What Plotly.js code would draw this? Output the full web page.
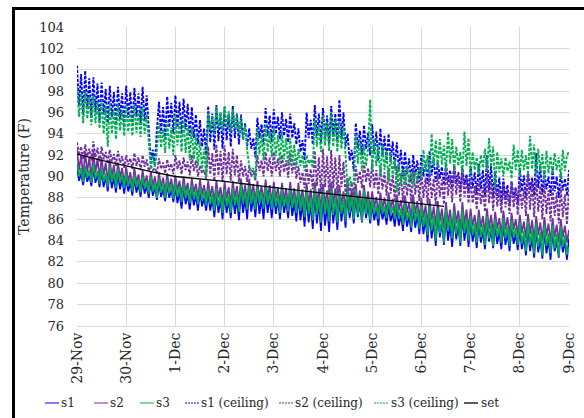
<!DOCTYPE html>
<html>
<head>
<meta charset="utf-8">
<script src="https://cdn.plot.ly/plotly-3.0.1.min.js"></script>
<style>
  html, body { margin: 0; padding: 0; background: #fff; }
  #wrap { position: relative; width: 584px; height: 418px; overflow: hidden; }
  #chart { position: absolute; left: 0; top: 0; width: 584px; height: 418px; }
  #frame { position: absolute; left: 12px; top: 7px; width: 640px; height: 480px;
           border-top: 3px solid #000; border-left: 3px solid #000; pointer-events: none; }
</style>
</head>
<body>
<div id="wrap"><div id="chart"></div><div id="frame"></div></div>
<script>
// Sampling: one reading every hour starting 29-Nov 00:00
const startDate = '2019-11-29T00:00:00';
const stepHours = 1;

const seriesNames = ['s1', 's2', 's3', 's1 (ceiling)', 's2 (ceiling)', 's3 (ceiling)', 'set'];

const s1 = [
  90.8, 89.6, 90.3, 89.2, 90.6, 89.5, 90.1, 89.1, 90.7, 89.4, 90.2, 89.0, 90.4, 89.0, 90.0, 88.6, 90.5, 88.9, 89.9, 88.5, 90.2, 88.8, 89.8, 88.4,
  89.9, 88.6, 89.4, 88.2, 89.8, 88.5, 89.3, 88.1, 89.6, 88.4, 89.1, 88.0, 89.5, 88.2, 89.0, 87.8, 89.3, 88.1, 88.8, 87.7, 89.2, 88.0, 88.7, 87.6,
  89.0, 87.5, 88.5, 87.0, 88.9, 87.4, 88.3, 86.9, 88.7, 87.3, 88.2, 86.8, 88.6, 87.2, 88.0, 86.8, 88.4, 86.8, 87.9, 86.2, 88.3, 86.6, 87.8, 86.0,
  88.3, 86.6, 87.8, 86.1, 88.4, 86.5, 87.9, 85.9, 88.6, 86.6, 88.0, 86.0, 88.7, 86.7, 88.1, 86.2, 88.5, 86.5, 87.9, 86.0, 88.5, 86.6, 88.0, 86.1,
  88.4, 86.5, 87.9, 86.0, 88.3, 86.6, 87.7, 86.1, 88.3, 86.3, 87.6, 85.8, 88.2, 85.9, 87.5, 85.3, 88.2, 85.7, 87.4, 85.1, 88.3, 85.6, 87.5, 84.9,
  88.1, 85.4, 87.3, 84.8, 88.2, 85.6, 87.4, 85.0, 88.0, 85.8, 87.5, 85.2, 88.2, 86.1, 87.6, 85.6, 88.1, 86.2, 87.5, 85.7, 88.0, 86.1, 87.4, 85.6,
  87.4, 85.9, 86.9, 85.4, 87.3, 86.0, 86.8, 85.5, 87.2, 85.8, 86.6, 85.3, 87.0, 85.4, 86.4, 84.9, 86.9, 85.3, 86.3, 84.8, 87.0, 85.2, 86.4, 84.6,
  86.8, 84.6, 86.0, 83.9, 86.6, 84.2, 85.8, 83.5, 86.5, 84.3, 85.7, 83.6, 86.3, 84.0, 85.5, 83.4, 86.2, 84.1, 85.4, 83.5, 86.3, 84.0, 85.6, 83.4,
  85.8, 83.9, 85.1, 83.3, 85.6, 83.8, 84.9, 83.2, 85.7, 83.9, 85.0, 83.3, 85.4, 83.7, 84.8, 83.2, 85.5, 83.6, 84.7, 83.0, 85.3, 83.7, 84.6, 83.1,
  85.1, 83.2, 84.4, 82.6, 85.2, 83.0, 84.3, 82.4, 85.0, 82.9, 84.2, 82.3, 84.9, 82.8, 84.1, 82.2, 84.8, 83.0, 84.0, 82.4, 84.7, 82.9, 83.9, 82.2, 84.2
];

const s2 = [
  92.5, 90.6, 92.0, 90.0, 92.3, 90.4, 91.8, 89.8, 92.4, 90.3, 91.7, 89.8, 91.8, 90.1, 91.3, 89.5, 91.6, 90.0, 91.1, 89.4, 91.3, 89.9, 90.8, 89.3,
  90.9, 89.5, 90.4, 89.0, 90.8, 89.4, 90.2, 88.9, 90.6, 89.3, 90.1, 88.8, 90.5, 89.1, 90.0, 88.6, 90.4, 89.0, 89.9, 88.5, 90.3, 88.9, 89.8, 88.4,
  90.1, 88.7, 89.6, 88.2, 90.0, 88.6, 89.4, 88.0, 89.8, 88.5, 89.3, 88.0, 89.7, 88.3, 89.2, 87.8, 89.6, 88.1, 89.1, 87.6, 89.6, 88.0, 89.0, 87.5,
  89.5, 87.9, 89.0, 87.4, 89.6, 88.0, 89.1, 87.5, 89.8, 88.1, 89.2, 87.6, 89.8, 88.1, 89.3, 87.6, 89.6, 88.0, 89.1, 87.6, 89.7, 88.0, 89.2, 87.5,
  89.5, 87.9, 89.0, 87.4, 89.4, 87.8, 88.9, 87.3, 89.5, 87.7, 88.9, 87.2, 89.4, 87.5, 88.8, 87.0, 89.4, 87.4, 88.8, 86.9, 89.5, 87.3, 88.9, 86.8,
  89.3, 87.3, 88.7, 86.8, 89.5, 87.4, 88.9, 86.8, 89.2, 87.3, 88.6, 86.8, 89.4, 87.4, 88.8, 86.9, 89.3, 87.3, 88.7, 86.8, 89.2, 87.2, 88.6, 86.8,
  88.6, 87.1, 88.1, 86.6, 88.5, 87.0, 88.0, 86.6, 88.5, 87.0, 87.9, 86.5, 88.3, 86.8, 87.8, 86.3, 88.2, 86.6, 87.6, 86.0, 88.3, 86.5, 87.7, 86.0,
  88.0, 86.1, 87.3, 85.5, 87.9, 85.9, 87.2, 85.3, 87.7, 85.8, 87.0, 85.2, 87.6, 85.6, 86.9, 85.0, 87.5, 85.6, 86.8, 85.0, 87.6, 85.5, 86.9, 85.0,
  87.0, 85.3, 86.4, 84.8, 86.9, 85.2, 86.3, 84.7, 87.0, 85.1, 86.4, 84.6, 86.7, 85.1, 86.1, 84.6, 86.8, 85.0, 86.2, 84.5, 86.6, 85.0, 86.0, 84.5,
  86.4, 84.7, 85.8, 84.2, 86.5, 84.6, 85.9, 84.0, 86.3, 84.5, 85.7, 84.0, 86.2, 84.4, 85.6, 83.9, 86.1, 84.3, 85.5, 83.8, 86.0, 84.3, 85.4, 83.8, 85.0
];

const s3 = [
  91.3, 90.0, 90.8, 89.5, 91.0, 89.9, 90.6, 89.4, 91.2, 89.8, 90.5, 89.3, 90.8, 89.5, 90.3, 89.0, 91.0, 89.5, 90.4, 88.9, 90.7, 89.4, 90.2, 88.9,
  90.3, 89.1, 89.8, 88.6, 90.2, 89.0, 89.7, 88.5, 90.0, 88.9, 89.5, 88.4, 90.0, 88.6, 89.4, 88.0, 89.8, 88.5, 89.3, 88.0, 89.7, 88.4, 89.2, 87.9,
  89.5, 88.1, 89.0, 87.6, 89.4, 88.0, 88.9, 87.5, 89.2, 87.9, 88.7, 87.4, 89.1, 87.8, 88.6, 87.3, 88.9, 87.4, 88.4, 86.8, 88.9, 87.2, 88.3, 86.6,
  88.8, 87.2, 88.2, 86.6, 88.9, 87.3, 88.4, 86.7, 89.2, 87.5, 88.6, 86.9, 89.2, 87.4, 88.6, 86.9, 89.0, 87.5, 88.5, 87.0, 89.1, 87.4, 88.5, 86.9,
  88.9, 87.2, 88.3, 86.6, 88.8, 87.2, 88.2, 86.7, 88.9, 87.1, 88.3, 86.6, 88.9, 86.8, 88.2, 86.2, 88.8, 86.5, 88.0, 85.9, 88.9, 86.4, 88.1, 85.7,
  88.7, 86.5, 87.9, 85.8, 88.9, 86.4, 88.0, 85.7, 88.6, 86.5, 87.8, 85.8, 88.9, 86.6, 88.1, 86.0, 88.8, 86.4, 88.0, 85.8, 88.7, 86.5, 87.9, 85.9,
  87.9, 86.5, 87.3, 86.0, 87.8, 86.6, 87.2, 86.1, 87.9, 86.5, 87.2, 86.0, 87.6, 86.1, 87.0, 85.5, 87.5, 85.9, 86.8, 85.2, 87.6, 85.8, 86.9, 85.1,
  87.3, 85.3, 86.5, 84.5, 87.2, 84.9, 86.3, 84.0, 87.0, 84.7, 86.2, 83.8, 86.9, 84.9, 86.1, 84.2, 86.8, 84.6, 86.0, 83.8, 86.9, 84.7, 86.1, 84.0,
  86.3, 84.5, 85.6, 83.8, 86.2, 84.3, 85.5, 83.6, 86.3, 84.2, 85.5, 83.5, 86.0, 84.4, 85.3, 83.8, 86.1, 84.2, 85.3, 83.5, 85.9, 84.3, 85.2, 83.6,
  85.7, 83.7, 84.9, 83.0, 85.8, 83.6, 85.0, 82.8, 85.6, 83.4, 84.8, 82.6, 85.5, 83.5, 84.7, 82.8, 85.4, 83.3, 84.6, 82.5, 85.3, 83.4, 84.5, 82.7, 83.4
];

const s1Ceiling = [
  100.4, 96.6, 99.6, 95.8, 99.9, 96.3, 99.2, 95.5, 99.3, 96.0, 98.7, 95.2, 98.8, 95.8, 98.2, 95.0, 98.5, 95.6, 97.9, 94.8, 98.4, 95.4, 97.8, 94.6,
  98.5, 95.5, 97.9, 94.8, 98.3, 95.6, 97.8, 95.0, 98.4, 95.2, 97.6, 94.0, 91.5, 92.5, 91.0, 94.5, 97.0, 94.0, 96.5, 93.5, 97.5, 94.6, 96.9, 94.0,
  97.6, 94.6, 97.0, 94.0, 97.3, 94.4, 96.8, 93.8, 96.5, 93.6, 95.8, 93.0, 95.3, 92.8, 94.5, 92.0, 96.6, 93.2, 95.9, 92.5, 96.7, 93.3, 96.0, 92.6,
  96.5, 93.4, 95.9, 92.8, 96.6, 93.6, 95.9, 93.0, 95.8, 93.4, 95.0, 92.8, 94.5, 92.6, 93.6, 91.8, 95.5, 93.6, 94.9, 93.0, 96.4, 93.8, 95.7, 93.2,
  96.3, 94.0, 95.6, 93.5, 96.0, 93.8, 95.4, 93.2, 95.9, 93.6, 95.0, 93.0, 94.5, 92.3, 93.4, 91.5, 96.0, 93.6, 95.3, 93.0, 96.7, 93.8, 95.9, 93.2,
  96.4, 93.6, 95.7, 93.0, 96.6, 93.8, 95.9, 93.2, 97.2, 93.5, 96.0, 92.8, 94.0, 91.5, 92.5, 90.5, 95.0, 92.6, 94.3, 92.0, 94.8, 92.6, 94.1, 92.0,
  94.9, 92.1, 94.2, 91.5, 94.5, 91.9, 93.8, 91.3, 94.0, 91.4, 93.3, 90.8, 93.2, 90.7, 92.5, 90.0, 92.3, 90.2, 91.7, 89.5, 92.0, 90.1, 91.5, 89.5,
  92.0, 90.0, 91.4, 89.3, 92.4, 90.1, 91.7, 89.5, 91.5, 89.8, 90.9, 89.2, 91.3, 89.5, 90.6, 88.9, 91.0, 89.4, 90.4, 88.8, 90.8, 89.2, 90.2, 88.6,
  91.0, 88.9, 90.4, 88.3, 91.2, 88.8, 90.6, 88.2, 92.0, 88.7, 91.0, 88.0, 90.5, 88.1, 89.9, 87.5, 89.8, 87.9, 89.2, 87.3, 89.5, 88.0, 89.0, 87.4,
  90.8, 88.6, 90.1, 88.0, 90.5, 88.7, 89.9, 88.2, 92.2, 88.9, 91.0, 88.3, 90.6, 88.8, 90.0, 88.2, 90.7, 88.6, 90.0, 88.0, 90.4, 88.7, 89.8, 88.2, 90.6
];

const s2Ceiling = [
  93.2, 92.0, 92.8, 91.6, 93.0, 91.9, 92.6, 91.5, 93.3, 91.8, 92.7, 91.4, 92.8, 91.6, 92.3, 91.2, 92.5, 91.4, 92.1, 91.0, 92.4, 91.3, 91.9, 90.8,
  92.0, 91.1, 91.7, 90.7, 92.2, 91.0, 91.8, 90.6, 92.0, 90.9, 91.6, 90.5, 91.0, 90.6, 90.8, 90.3, 91.7, 90.7, 91.3, 90.3, 91.6, 90.6, 91.2, 90.2,
  92.0, 90.7, 91.5, 90.2, 91.8, 90.6, 91.4, 90.1, 92.0, 90.5, 91.5, 90.0, 91.0, 90.3, 90.6, 89.8, 92.8, 90.2, 92.2, 89.6, 93.0, 90.1, 92.4, 89.5,
  92.9, 90.2, 92.3, 89.6, 92.6, 90.1, 92.0, 89.5, 91.5, 90.0, 91.0, 89.5, 91.0, 90.0, 90.6, 89.6, 92.0, 90.5, 91.5, 90.0, 92.3, 90.5, 91.8, 90.0,
  92.3, 90.5, 91.7, 90.0, 92.0, 90.4, 91.5, 89.9, 92.2, 90.3, 91.6, 89.8, 91.0, 89.4, 90.4, 88.9, 91.2, 89.3, 90.7, 88.8, 92.4, 89.1, 91.8, 88.4,
  92.6, 89.0, 91.9, 88.3, 92.5, 88.9, 91.8, 88.2, 92.0, 89.0, 91.4, 88.3, 89.8, 88.6, 89.4, 88.2, 91.0, 89.4, 90.5, 88.9, 91.3, 89.5, 90.8, 89.0,
  91.3, 88.9, 90.6, 88.3, 91.0, 88.8, 90.4, 88.2, 90.8, 88.4, 90.2, 87.8, 91.0, 88.2, 90.3, 87.6, 90.6, 88.2, 90.0, 87.6, 90.8, 88.3, 90.1, 87.7,
  90.6, 88.0, 89.9, 87.4, 90.5, 88.0, 89.8, 87.3, 90.4, 88.1, 89.7, 87.4, 90.8, 88.2, 90.1, 87.6, 91.0, 88.3, 90.2, 87.6, 90.7, 88.1, 90.0, 87.5,
  89.8, 87.5, 89.1, 86.9, 89.6, 87.4, 89.0, 86.7, 90.3, 87.5, 89.5, 86.8, 89.5, 87.2, 88.8, 86.6, 89.4, 87.1, 88.7, 86.5, 89.6, 87.1, 88.9, 86.4,
  89.5, 87.0, 88.8, 86.3, 90.3, 86.9, 89.5, 86.2, 89.8, 86.7, 89.1, 86.0, 89.4, 86.5, 88.7, 85.8, 89.2, 86.3, 88.5, 85.6, 89.0, 86.2, 88.3, 85.5, 88.9
];

const s3Ceiling = [
  98.4, 95.6, 97.8, 95.0, 98.0, 95.4, 97.5, 94.8, 97.6, 95.0, 97.0, 94.5, 97.2, 94.0, 96.6, 92.8, 96.9, 94.0, 96.3, 93.5, 96.8, 94.3, 96.2, 93.8,
  96.7, 94.2, 96.1, 93.8, 96.8, 94.1, 96.2, 93.7, 96.6, 94.0, 95.8, 93.6, 90.7, 92.0, 90.9, 92.5, 95.0, 92.7, 94.4, 92.2, 95.2, 92.6, 94.6, 92.0,
  95.8, 92.9, 95.2, 92.3, 95.5, 92.2, 94.8, 91.5, 94.6, 91.6, 93.9, 91.0, 93.3, 90.7, 92.6, 90.0, 96.0, 94.4, 95.6, 94.0, 96.5, 94.6, 96.0, 94.2,
  96.6, 94.6, 96.1, 94.2, 96.3, 94.5, 95.8, 94.0, 95.5, 93.5, 94.8, 92.5, 91.0, 90.5, 90.8, 89.8, 94.5, 92.1, 93.9, 91.5, 94.9, 92.3, 94.3, 91.8,
  94.5, 91.9, 93.9, 91.3, 94.2, 91.6, 93.6, 91.0, 93.6, 91.3, 93.0, 90.8, 92.6, 91.0, 92.0, 90.5, 92.0, 91.2, 91.6, 90.8, 95.3, 92.8, 94.8, 92.3,
  95.7, 92.9, 95.1, 92.4, 96.0, 92.8, 95.3, 92.3, 95.2, 92.6, 94.6, 92.0, 88.9, 90.0, 89.2, 89.5, 94.0, 91.2, 93.4, 90.5, 93.0, 91.0, 92.6, 97.2,
  90.4, 93.5, 91.0, 92.9, 90.0, 93.0, 90.6, 92.4, 89.5, 92.2, 90.0, 91.6, 88.5, 91.2, 89.2, 90.7, 89.0, 91.0, 89.5, 90.4, 89.0, 90.5, 89.6, 90.8,
  89.8, 92.5, 90.4, 92.0, 90.2, 94.0, 91.0, 93.4, 90.8, 93.5, 91.1, 92.9, 90.5, 94.2, 91.2, 93.5, 90.6, 92.8, 91.0, 92.3, 90.3, 94.2, 91.0, 93.6,
  90.0, 92.3, 90.6, 91.8, 90.2, 92.0, 90.8, 92.6, 90.5, 93.6, 90.9, 92.8, 88.9, 92.3, 90.4, 91.7, 90.0, 91.8, 90.5, 91.4, 89.8, 93.0, 90.6, 92.5,
  90.0, 92.5, 90.6, 92.0, 90.2, 93.8, 90.7, 93.0, 90.0, 92.6, 90.5, 92.1, 89.6, 92.4, 90.3, 91.9, 90.2, 92.2, 90.6, 91.8, 89.8, 92.5, 90.5, 92.0, 92.3
];

// Set point, sampled every half day (days after 29-Nov)
const setDays = [0, 0.5, 1, 1.5, 2, 2.5, 3, 3.5, 4, 4.5, 5, 5.5, 6, 6.5, 7, 7.46];
const setVals = [92.1, 91.5, 91.0, 90.45, 90.0, 89.8, 89.55, 89.25, 88.95, 88.7, 88.45, 88.2, 88.0, 87.75, 87.5, 87.2];

const yTicks = [76, 78, 80, 82, 84, 86, 88, 90, 92, 94, 96, 98, 100, 102, 104];

// ---- build ----
const t0 = new Date(startDate + 'Z').getTime();
const fmt = ms => new Date(ms).toISOString().slice(0, 19).replace('T', ' ');
const xFor = arr => arr.map((_, i) => fmt(t0 + i * stepHours * 3600000));
const setX = setDays.map(d => fmt(t0 + d * 86400000));

const BLUE = '#0000FF', PURPLE = '#7030A0', GREEN = '#00B050';
const DASH = '3px,1.5px';
const colors = [BLUE, PURPLE, GREEN, BLUE, PURPLE, GREEN, '#000000'];
const dashes = ['solid', 'solid', 'solid', DASH, DASH, DASH, 'solid'];
const widths = [1.7, 1.7, 1.7, 1.9, 1.9, 1.9];
const values = [s1, s2, s3, s1Ceiling, s2Ceiling, s3Ceiling];

const traces = values.map((v, k) => ({
  type: 'scatter', mode: 'lines', hoverinfo: 'skip', name: seriesNames[k],
  x: xFor(v), y: v, line: {color: colors[k], width: widths[k], dash: dashes[k]}
}));
traces.push({type: 'scatter', mode: 'lines', hoverinfo: 'skip', name: seriesNames[6],
  x: setX, y: setVals, line: {color: '#000000', width: 1.3}});

// ---- custom one-row legend (pixel positions converted to paper coords) ----
const PL = 77, PW = 492, PB = 326, PH = 299;
const px2x = p => (p - PL) / PW;
const py2y = p => (PB - p) / PH;
const legLineX = [45, 94, 140, 185, 279, 374, 464];
const legTextX = [60, 109, 155, 200, 294, 390, 480];
const legY = py2y(403);
const FONT = 'DejaVu Serif, Liberation Serif, serif';

const shapes = legLineX.map((x0, k) => ({
  type: 'line', xref: 'paper', yref: 'paper', layer: 'above',
  x0: px2x(x0), x1: px2x(x0 + 14), y0: legY, y1: legY,
  line: {color: colors[k], width: k === 6 ? 1.3 : 1, dash: k >= 3 && k <= 5 ? '2px,1px' : 'solid'}
}));
const annotations = legTextX.map((x, k) => ({
  xref: 'paper', yref: 'paper', x: px2x(x), y: legY, xanchor: 'left', yanchor: 'middle',
  text: seriesNames[k], showarrow: false, borderpad: 0,
  font: {family: FONT, size: 12, color: '#262626'}
}));

const layout = {
  width: 584, height: 418,
  margin: {l: 77, r: 15, t: 27, b: 92},
  paper_bgcolor: 'rgba(0,0,0,0)',
  plot_bgcolor: '#ffffff',
  font: {family: FONT, size: 13, color: '#262626'},
  showlegend: false,
  shapes: shapes,
  annotations: annotations,
  xaxis: {
    type: 'date',
    range: [fmt(t0), fmt(t0 + 10 * 86400000)],
    tick0: fmt(t0), dtick: 86400000,
    tickformat: '%-d-%b', tickangle: -90,
    showgrid: true, gridcolor: '#d9d9d9', gridwidth: 1,
    zeroline: false, showline: true, linecolor: '#d9d9d9', linewidth: 1,
    ticks: '', tickfont: {family: FONT, size: 14, color: '#262626'},
    automargin: false, fixedrange: true
  },
  yaxis: {
    range: [76, 104], tickvals: yTicks, ticktext: yTicks.map(String),
    showgrid: true, gridcolor: '#d9d9d9', gridwidth: 1,
    zeroline: false, showline: false, ticks: '',
    ticklabelstandoff: 12,
    tickfont: {family: FONT, size: 13, color: '#262626'},
    title: {text: 'Temperature (F)', font: {family: FONT, size: 14, color: '#262626'}, standoff: 6},
    automargin: false, fixedrange: true
  }
};

Plotly.newPlot('chart', traces, layout, {displayModeBar: false, staticPlot: true});
</script>
</body>
</html>
